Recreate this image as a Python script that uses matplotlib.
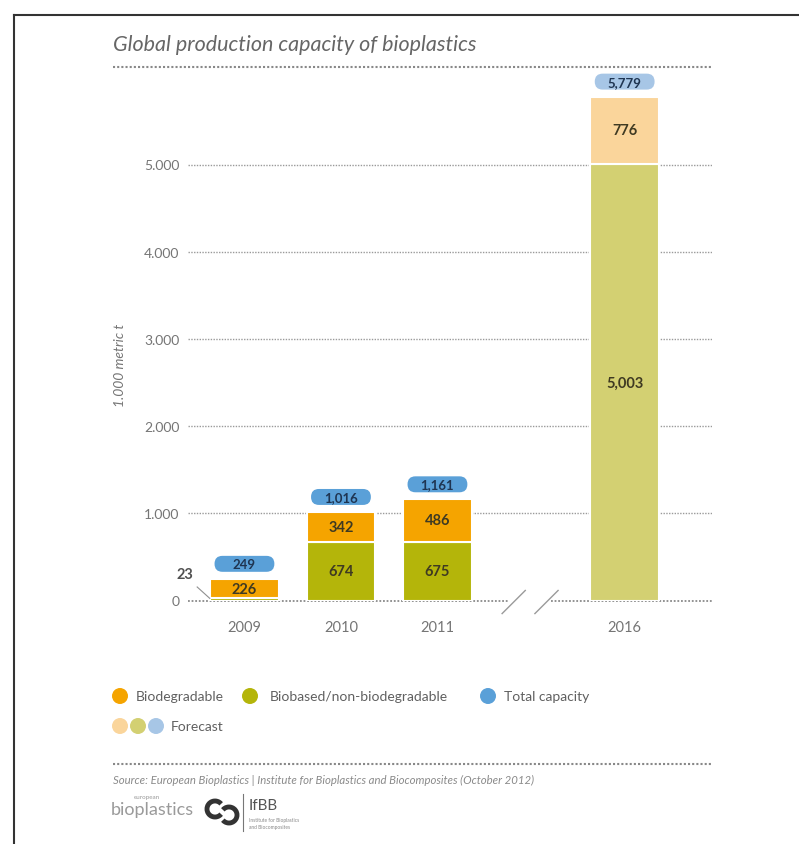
import matplotlib
matplotlib.use("Agg")
import matplotlib.pyplot as plt
from matplotlib.patches import FancyBboxPatch, Arc

plt.rcParams['font.family'] = ['Lato', 'DejaVu Sans']

# Data (1,000 metric tonnes)
years = ["2009", "2010", "2011", "2016"]
biobased = [23, 674, 675, 5003]          # biobased / non-biodegradable
biodegradable = [226, 342, 486, 776]
total = [249, 1016, 1161, 5779]
is_forecast = [False, False, False, True]
bar_labels_biobased = ["", "674", "675", "5,003"]
bar_labels_biodeg = ["226", "342", "486", "776"]
total_labels = ["249", "1,016", "1,161", "5,779"]
ytick_vals = [0, 1000, 2000, 3000, 4000, 5000]
ytick_labels = ["0", "1.000", "2.000", "3.000", "4.000", "5.000"]

xpos = [0, 1, 2, 3.94]

c_orange, c_green, c_blue = "#F5A400", "#B4B50A", "#5AA0D8"
f_orange, f_green, f_blue = "#FAD59B", "#D3D072", "#A7C6E6"
txt_dark = "#3f3a22"
grey = "#757575"

fig = plt.figure(figsize=(7.99, 8.45), dpi=100)
ax = fig.add_axes([188 / 799, (845 - 601.5) / 845, (712 - 188) / 799, 523.2 / 845])
ax.set_xlim(-0.585, 4.845)
ax.set_ylim(0, 6000)
for s in ax.spines.values():
    s.set_visible(False)
ax.tick_params(length=0)

# dotted grid lines
for v in ytick_vals[1:]:
    ax.axhline(v, color="#9a9a9a", lw=1, ls=(0, (1, 1)), zorder=0)
# baseline with a break
ax.plot([-0.585, 2.74], [0, 0], color="#8a8a8a", lw=1.3, ls=(0, (1, 1)), zorder=0, clip_on=False)
ax.plot([3.18, 4.845], [0, 0], color="#8a8a8a", lw=1.3, ls=(0, (1, 1)), zorder=0, clip_on=False)
for x0 in [2.67, 3.01]:
    ax.plot([x0, x0 + 0.24], [-150, 115], color="#9a9a9a", lw=1, clip_on=False)

ax.set_yticks(ytick_vals)
ax.set_yticklabels(ytick_labels, color=grey, fontsize=10)
ax.set_xticks(xpos)
ax.set_xticklabels(years, color=grey, fontsize=10.5)
ax.tick_params(axis="x", pad=14)
ax.tick_params(axis="y", pad=6)

w = 0.71
col_g = [f_green if f else c_green for f in is_forecast]
col_o = [f_orange if f else c_orange for f in is_forecast]
col_b = [f_blue if f else c_blue for f in is_forecast]
ax.bar(xpos, biobased, width=w, color=col_g, edgecolor="white", lw=1.5, zorder=2)
ax.bar(xpos, biodegradable, width=w, bottom=biobased, color=col_o,
       edgecolor="white", lw=1.5, zorder=2)

aspect = 1000 / 87.2 * 96.5
for i, x in enumerate(xpos):
    if bar_labels_biobased[i]:
        ax.text(x, biobased[i] / 2, bar_labels_biobased[i], ha="center", va="center",
                fontsize=10.5, fontweight="bold", color=txt_dark, zorder=3)
    ax.text(x, biobased[i] + biodegradable[i] / 2, bar_labels_biodeg[i], ha="center",
            va="center", fontsize=10.5, fontweight="bold", color=txt_dark, zorder=3)
    bw, bh = 0.62, 183
    y0 = total[i] + 80
    box = FancyBboxPatch((x - bw / 2, y0), bw, bh,
                         boxstyle="round,pad=0,rounding_size=0.082",
                         mutation_aspect=aspect, fc=col_b[i], ec="none",
                         zorder=3, clip_on=False)
    ax.add_patch(box)
    ax.text(x, y0 + bh / 2, total_labels[i], ha="center", va="center", fontsize=9.5,
            fontweight="bold", color="#1f3552", zorder=4, clip_on=False)

# small biobased value for 2009 with leader line
ax.text(-0.62, 304, "23", ha="center", va="center", fontsize=10.5, fontweight="bold",
        color="#505050", clip_on=False)
ax.plot([-0.49, -0.36], [155, 25], color="#909090", lw=0.8, clip_on=False)

# overlay in pixel coordinates for the rest of the page
ov = fig.add_axes([0, 0, 1, 1], zorder=-1)
ov.set_xlim(0, 799)
ov.set_ylim(845, 0)
ov.axis("off")

ov.plot([14, 14], [16, 845], color="#333333", lw=1.5)
ov.plot([14, 799], [16, 16], color="#333333", lw=1.5)

ov.text(113, 45, "Global production capacity of bioplastics", fontsize=15.5, style="italic",
        color="#666666", va="center")
ov.plot([113, 712], [68, 68], color="#888888", lw=1.5, ls=(0, (1, 1)))

ov.text(120, 365, "1.000 metric t", rotation=90, style="italic", fontsize=10,
        color=grey, ha="center", va="center")

# legend
ov.scatter([120, 250, 488], [697, 697, 697], s=110, c=[c_orange, c_green, c_blue])
ov.text(136, 697, "Biodegradable", fontsize=10, color="#606060", va="center")
ov.text(270, 697, "Biobased/non-biodegradable", fontsize=10, color="#606060", va="center")
ov.text(504, 697, "Total capacity", fontsize=10, color="#606060", va="center")
ov.scatter([120, 138, 156], [727, 727, 727], s=110, c=[f_orange, f_green, f_blue])
ov.text(171, 727, "Forecast", fontsize=10, color="#606060", va="center")

ov.plot([113, 712], [765, 765], color="#888888", lw=1.5, ls=(0, (1, 1)))
ov.text(113, 780, "Source: European Bioplastics | Institute for Bioplastics and Biocomposites (October 2012)",
        fontsize=8.2, style="italic", color="#8a8a8a", va="center")

# logos
ov.text(134, 798, "european", fontsize=4.5, color="#999999", va="center")
ov.text(111, 810, "bioplastics", fontsize=13, color="#9a9a9a", va="center")
ov.add_patch(Arc((215, 810), 16, 16, theta1=40, theta2=320, lw=3.5, color="#333333"))
ov.add_patch(Arc((229, 816), 16, 16, theta1=220, theta2=140, lw=3.5, color="#333333"))
ov.plot([243, 243], [795, 832], color="#777777", lw=0.8)
ov.text(249, 806, "IfBB", fontsize=11, color="#555555", va="center")
ov.text(249, 821, "Institute for Bioplastics", fontsize=3.5, color="#888888", va="center")
ov.text(249, 828, "and Biocomposites", fontsize=3.5, color="#888888", va="center")

fig.savefig("out.png", dpi=100)
